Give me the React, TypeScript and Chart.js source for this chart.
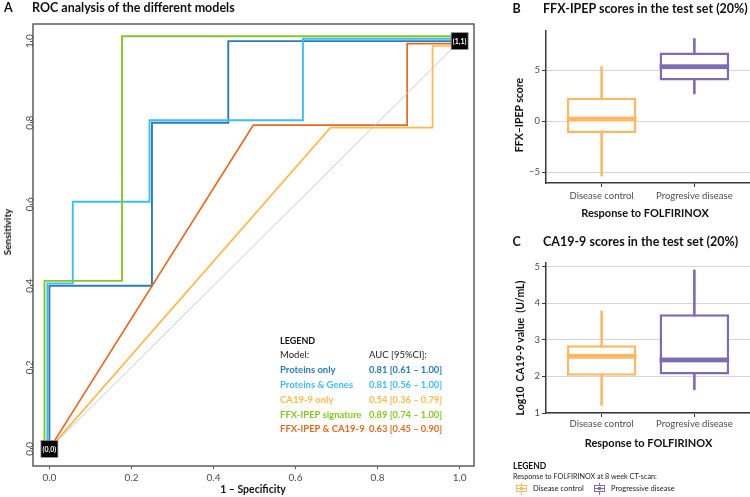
import React, { useEffect, useRef } from 'react';
import { Chart, registerables } from 'chart.js';
Chart.register(...registerables);

const FONT = 'Lato, "Open Sans", sans-serif';
Chart.defaults.font.family = FONT;

// ---------- Panel A: ROC ----------
const ROC_TICKS = [0, 0.2, 0.4, 0.6, 0.8, 1.0];
const MODEL_NAMES = ['Proteins only', 'Proteins & Genes', 'CA19-9 only', 'FFX-IPEP signature', 'FFX-IPEP & CA19-9'];
const MODEL_AUC = ['0.81 [0.61 \u2013 1.00]', '0.81 [0.56 \u2013 1.00]', '0.54 [0.36 \u2013 0.79]', '0.89 [0.74 \u2013 1.00]', '0.63 [0.45 \u2013 0.90]'];
const MODEL_COLORS = ['#2B7BBA', '#3DBDF5', '#FDB94E', '#86C526', '#E8691D'];
const CHANCE_COLOR = '#C9C9C9';

const FPR_PROTEINS = [0, 0, 0.25, 0.25, 0.436, 0.436, 1.0];
const TPR_PROTEINS = [0, 0.4, 0.4, 0.8, 0.8, 1.0, 1.0];
const FPR_PROT_GENES = [-0.005, -0.005, 0.057, 0.057, 0.244, 0.244, 0.618, 0.618, 1.0];
const TPR_PROT_GENES = [0, 0.406, 0.406, 0.606, 0.606, 0.806, 0.806, 1.006, 1.006];
const FPR_CA199 = [0, 0.685, 0.934, 0.934, 1.0];
const TPR_CA199 = [0, 0.788, 0.788, 0.988, 0.988];
const FPR_FFX = [-0.012, -0.012, 0.177, 0.177, 1.0];
const TPR_FFX = [0, 0.412, 0.412, 1.012, 1.012];
const FPR_FFX_CA = [0, 0.497, 0.872, 0.872, 1.0];
const TPR_FFX_CA = [0, 0.794, 0.794, 0.994, 0.994];
const FPR_CHANCE = [0, 1];
const TPR_CHANCE = [0, 1];
const ROC_MARKERS_X = [0, 1];
const ROC_MARKERS_Y = [0, 1];
const ROC_MARKER_LABELS = ['(0,0)', '(1,1)'];

// ---------- Panels B & C: box plots ----------
const RESPONSE_GROUPS = ['Disease control', 'Progresive disease'];
const GROUP_COLORS = ['#FDB863', '#7D6CB2'];

const FFX_MIN = [-5.4, 2.65];
const FFX_Q1 = [-1.15, 4.0];
const FFX_MEDIAN = [0.22, 5.35];
const FFX_Q3 = [2.3, 6.75];
const FFX_MAX = [5.4, 8.15];
const FFX_TICKS = [-5, 0, 5];

const CA_MIN = [1.2, 1.63];
const CA_Q1 = [2.02, 2.05];
const CA_MEDIAN = [2.55, 2.45];
const CA_Q3 = [2.85, 3.7];
const CA_MAX = [3.8, 4.92];
const CA_TICKS = [1, 2, 3, 4, 5];

const LEGEND_GROUPS = ['Disease control', 'Progressive disease'];

const AXIS_COLOR = '#3A3A3A';
const TICK_TEXT = '#4D4D4D';

function makeRocConfig() {
  const series = [
    { fpr: FPR_CHANCE, tpr: TPR_CHANCE, color: CHANCE_COLOR, width: 1 },
    { fpr: FPR_CA199, tpr: TPR_CA199, color: MODEL_COLORS[2], width: 1.7 },
    { fpr: FPR_FFX_CA, tpr: TPR_FFX_CA, color: MODEL_COLORS[4], width: 1.7 },
    { fpr: FPR_FFX, tpr: TPR_FFX, color: MODEL_COLORS[3], width: 1.9 },
    { fpr: FPR_PROT_GENES, tpr: TPR_PROT_GENES, color: MODEL_COLORS[1], width: 1.9 },
    { fpr: FPR_PROTEINS, tpr: TPR_PROTEINS, color: MODEL_COLORS[0], width: 1.9 },
  ];
  const rocPlugin = {
    id: 'rocExtras',
    afterDraw(chart: any) {
      const { ctx, chartArea, scales } = chart;
      ctx.save();
      ctx.strokeStyle = '#5E5E5E';
      ctx.lineWidth = 1.5;
      ctx.strokeRect(chartArea.left, chartArea.top, chartArea.right - chartArea.left, chartArea.bottom - chartArea.top);
      // rotated y tick labels
      ctx.fillStyle = TICK_TEXT;
      ctx.font = `10px ${FONT}`;
      ctx.textAlign = 'center';
      ctx.textBaseline = 'alphabetic';
      scales.y.ticks.forEach((t: any) => {
        const py = scales.y.getPixelForValue(t.value);
        ctx.save();
        ctx.translate(32.5, py);
        ctx.rotate(-Math.PI / 2);
        ctx.fillText(Number(t.value).toFixed(1), 0, 0);
        ctx.restore();
      });
      // corner markers
      ROC_MARKER_LABELS.forEach((lab, i) => {
        const px = scales.x.getPixelForValue(ROC_MARKERS_X[i]);
        const py = scales.y.getPixelForValue(ROC_MARKERS_Y[i]);
        ctx.fillStyle = '#000';
        ctx.fillRect(px - 8.5, py - 8.5, 17, 17);
        ctx.strokeStyle = '#9A9A9A';
        ctx.lineWidth = 0.8;
        ctx.strokeRect(px - 8.5, py - 8.5, 17, 17);
        ctx.fillStyle = '#fff';
        ctx.font = `bold 7px ${FONT}`;
        ctx.textAlign = 'center';
        ctx.textBaseline = 'middle';
        ctx.fillText(lab, px, py + 0.5);
      });
      ctx.restore();
    },
  };
  return {
    type: 'scatter',
    data: {
      datasets: series.map((s) => ({
        data: s.fpr.map((x, i) => ({ x, y: s.tpr[i] })),
        showLine: true,
        borderColor: s.color,
        backgroundColor: s.color,
        borderWidth: s.width,
        pointRadius: 0,
        tension: 0,
        fill: false,
      })),
    },
    options: {
      responsive: false,
      animation: false,
      layout: { padding: { top: 24, right: 6, left: 0, bottom: 0 } },
      plugins: { legend: { display: false }, tooltip: { enabled: false } },
      scales: {
        x: {
          type: 'linear',
          min: -0.04,
          max: 1.035,
          afterBuildTicks: (s: any) => { s.ticks = ROC_TICKS.map((v) => ({ value: v })); },
          afterFit: (s: any) => { s.height = 31; },
          ticks: { callback: (v: any) => Number(v).toFixed(1), font: { size: 10 }, color: TICK_TEXT, padding: 3, maxRotation: 0, autoSkip: false },
          grid: { drawOnChartArea: false, tickLength: 3, tickColor: '#5E5E5E', tickWidth: 1 },
          border: { display: false },
        },
        y: {
          type: 'linear',
          min: -0.042,
          max: 1.042,
          afterBuildTicks: (s: any) => { s.ticks = ROC_TICKS.map((v) => ({ value: v })); },
          afterFit: (s: any) => { s.width = 33; },
          ticks: { display: false },
          grid: { drawOnChartArea: false, tickLength: 3, tickColor: '#5E5E5E', tickWidth: 1 },
          border: { display: false },
        },
      },
    },
    plugins: [rocPlugin],
  };
}

function makeBoxConfig(p: any) {
  const xs = RESPONSE_GROUPS.map((_, i) => i + 1);
  const medianPlugin = {
    id: 'medians',
    afterDatasetsDraw(chart: any) {
      const { ctx, scales } = chart;
      const meta = chart.getDatasetMeta(0);
      ctx.save();
      meta.data.forEach((bar: any, i: number) => {
        const y = scales.y.getPixelForValue(p.med[i]);
        ctx.fillStyle = GROUP_COLORS[i];
        ctx.fillRect(bar.x - bar.width / 2, y - 2.4, bar.width, 4.8);
      });
      ctx.restore();
    },
  };
  return {
    type: 'bar',
    data: {
      datasets: [
        {
          data: xs.map((x, i) => ({ x, y: [p.q1[i], p.q3[i]] })),
          backgroundColor: '#ffffff',
          borderColor: GROUP_COLORS,
          borderWidth: 2.5,
          borderSkipped: false,
          grouped: false,
          barPercentage: 0.75,
          categoryPercentage: 1,
          order: 1,
        },
        {
          data: xs.map((x, i) => ({ x, y: [p.min[i], p.max[i]] })),
          backgroundColor: GROUP_COLORS,
          borderWidth: 0,
          grouped: false,
          maxBarThickness: 2.6,
          order: 2,
        },
      ],
    },
    options: {
      responsive: false,
      animation: false,
      layout: { padding: { top: p.top, right: 0, left: 0, bottom: 0 } },
      plugins: { legend: { display: false }, tooltip: { enabled: false } },
      scales: {
        x: {
          type: 'linear',
          offset: false,
          min: 0.4,
          max: 2.6,
          afterBuildTicks: (s: any) => { s.ticks = xs.map((v) => ({ value: v })); },
          afterFit: (s: any) => { s.height = p.xHeight; },
          ticks: { callback: (v: any) => RESPONSE_GROUPS[Math.round(v) - 1] || '', font: { size: 9.5 }, color: TICK_TEXT, padding: p.xPad, maxRotation: 0, autoSkip: false },
          grid: { drawOnChartArea: false, offset: false, tickLength: 4, tickColor: AXIS_COLOR, tickWidth: 1 },
          border: { display: true, color: AXIS_COLOR, width: 1.5 },
        },
        y: {
          type: 'linear',
          min: p.yMin,
          max: p.yMax,
          afterBuildTicks: (s: any) => { s.ticks = p.ticks.map((v: number) => ({ value: v })); },
          afterFit: (s: any) => { s.width = 56; },
          ticks: { callback: (v: any) => (v < 0 ? '\u2212' + Math.abs(v) : String(v)), font: { size: 9.5 }, color: TICK_TEXT, padding: 2 },
          grid: { color: '#D6D6D6', lineWidth: 1, tickLength: 4, tickColor: AXIS_COLOR, tickWidth: 1 },
          border: { display: true, color: AXIS_COLOR, width: 1.5 },
        },
      },
    },
    plugins: [medianPlugin],
  };
}

function ChartCanvas({ left, top, width, height, make }: any) {
  const ref = useRef<HTMLCanvasElement>(null);
  useEffect(() => {
    const chart = new Chart(ref.current as any, make());
    return () => chart.destroy();
  }, []);
  return (
    <canvas
      ref={ref}
      width={width}
      height={height}
      style={{ position: 'absolute', left, top, width, height }}
    />
  );
}

function T({ x, y, children, size = 10, bold = false, color = '#111', center = false, rotate = false }: any) {
  let transform = center ? 'translate(-50%,-50%)' : 'translateY(-50%)';
  if (rotate) transform += ' rotate(-90deg)';
  return (
    <div
      style={{
        position: 'absolute',
        left: x,
        top: y,
        transform,
        whiteSpace: 'nowrap',
        lineHeight: 1,
        fontFamily: FONT,
        fontSize: size,
        fontWeight: bold ? 700 : 400,
        color,
      }}
    >
      {children}
    </div>
  );
}

function BoxGlyph({ x, y, color }: any) {
  return (
    <div style={{ position: 'absolute', left: x, top: y - 6, width: 11, height: 12 }}>
      <div style={{ position: 'absolute', left: 5, top: 0, width: 1, height: 12, background: color }} />
      <div style={{ position: 'absolute', left: 0, top: 2.5, width: 11, height: 7, boxSizing: 'border-box', border: `1px solid ${color}`, background: '#fff' }} />
      <div style={{ position: 'absolute', left: 0, top: 5.5, width: 11, height: 1, background: color }} />
      <div style={{ position: 'absolute', left: 4, top: 4.5, width: 3, height: 3, background: color }} />
    </div>
  );
}

export default function App() {
  const legendRowsY = [370, 384.7, 399.5, 414.5, 429.3];
  return (
    <div style={{ position: 'fixed', left: 0, top: 0, width: 750, height: 497, background: '#fff', overflow: 'hidden' }}>
      <ChartCanvas left={0} top={0} width={480} height={497} make={makeRocConfig} />
      <ChartCanvas
        left={490}
        top={0}
        width={260}
        height={220}
        make={() => makeBoxConfig({ min: FFX_MIN, q1: FFX_Q1, med: FFX_MEDIAN, q3: FFX_Q3, max: FFX_MAX, yMin: -6.05, yMax: 8.85, ticks: FFX_TICKS, top: 31, xHeight: 37, xPad: 3 })}
      />
      <ChartCanvas
        left={490}
        top={220}
        width={260}
        height={220}
        make={() => makeBoxConfig({ min: CA_MIN, q1: CA_Q1, med: CA_MEDIAN, q3: CA_Q3, max: CA_MAX, yMin: 1, yMax: 5.1, ticks: CA_TICKS, top: 43, xHeight: 27, xPad: 1 })}
      />

      {/* Panel A text */}
      <T x={4} y={7.5} size={12.5} bold>A</T>
      <T x={32} y={7.5} size={12.5} bold>ROC analysis of the different models</T>
      <T x={6.5} y={231.5} size={10} bold center rotate>Sensitivity</T>
      <T x={253} y={489} size={10.5} bold center>1 &ndash; Specificity</T>
      <T x={280} y={340} size={9} bold>LEGEND</T>
      <T x={280} y={355} size={9.5} color="#222">Model:</T>
      <T x={369} y={355} size={9.5} color="#222">AUC [95%CI]:</T>
      {MODEL_NAMES.map((n, i) => (
        <T key={'n' + i} x={280} y={legendRowsY[i]} size={9.5} bold color={MODEL_COLORS[i]}>{n}</T>
      ))}
      {MODEL_AUC.map((n, i) => (
        <T key={'a' + i} x={369} y={legendRowsY[i]} size={9.3} bold color={MODEL_COLORS[i]}>{n}</T>
      ))}

      {/* Panel B text */}
      <T x={512.5} y={8.5} size={12.5} bold>B</T>
      <T x={543} y={8.5} size={12.5} bold>FFX-IPEP scores in the test set (20%)</T>
      <T x={519} y={115} size={10.5} bold center rotate>FFX&ndash;IPEP score</T>
      <T x={645} y={211.5} size={11} bold center>Response to FOLFIRINOX</T>

      {/* Panel C text */}
      <T x={512.5} y={242.3} size={12.5} bold>C</T>
      <T x={543} y={242.3} size={12.5} bold>CA19-9 scores in the test set (20%)</T>
      <T x={520} y={347.5} size={10.5} bold center rotate>Log10&nbsp; CA19-9 value&nbsp; (U/mL)</T>
      <T x={648.5} y={441.7} size={11} bold center>Response to FOLFIRINOX</T>

      {/* Panel C legend */}
      <T x={513} y={466} size={8.5} bold>LEGEND</T>
      <T x={513} y={477.3} size={7.2} color="#222">Response to FOLFIRINOX at 8 week CT-scan:</T>
      <BoxGlyph x={516} y={488.7} color={GROUP_COLORS[0]} />
      <T x={533} y={488.7} size={7.5} color="#222">{LEGEND_GROUPS[0]}</T>
      <BoxGlyph x={593.5} y={488.7} color={GROUP_COLORS[1]} />
      <T x={611} y={488.7} size={7.5} color="#222">{LEGEND_GROUPS[1]}</T>
    </div>
  );
}
